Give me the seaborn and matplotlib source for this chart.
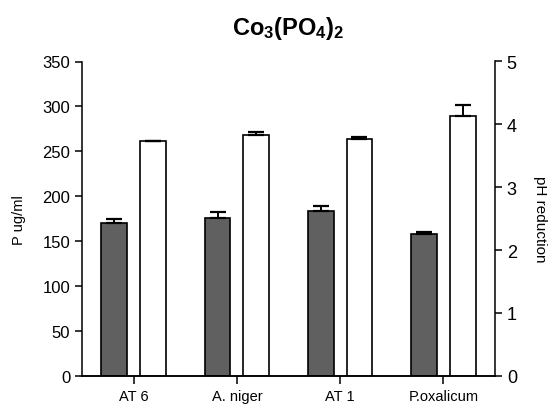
import matplotlib
matplotlib.use("Agg")
import matplotlib.pyplot as plt
import numpy as np
import pandas as pd
import seaborn as sns

# Phosphate solubilisation and pH drop per isolate
strains = ["AT 6", "A. niger", "AT 1", "P.oxalicum"]
p_values = [170, 176, 183, 157.5]
p_errors = [4, 6, 6.5, 2.5]
ph_values = [3.73, 3.83, 3.76, 4.14]
ph_errors = [0.01, 0.045, 0.04, 0.17]
p_ticks = [0, 50, 100, 150, 200, 250, 300, 350]
ph_ticks = [0, 1, 2, 3, 4, 5]

sns.set_style("ticks")
plt.rcParams["font.family"] = ["Liberation Sans", "DejaVu Sans"]
plt.rcParams["text.color"] = "black"
plt.rcParams["axes.labelcolor"] = "black"
plt.rcParams["mathtext.fontset"] = "custom"
plt.rcParams["mathtext.rm"] = "Liberation Sans"
plt.rcParams["mathtext.bf"] = "Liberation Sans:bold"

df_p = pd.DataFrame({"strain": strains, "measure": "P", "value": p_values})
df_ph = pd.DataFrame({"strain": strains, "measure": "pH", "value": ph_values})
palette = {"P": "#606060", "pH": "white"}
hue_order = ["P", "pH"]

fig = plt.figure(figsize=(5.48, 4.10), dpi=100)
ax = fig.add_axes([82 / 548, 1 - 376.7 / 410, (495 - 82) / 548, (376.7 - 62.5) / 410])
ax2 = ax.twinx()

common = dict(x="strain", y="value", hue="measure", hue_order=hue_order,
              order=strains, palette=palette, dodge=True, width=0.75, gap=0.33,
              errorbar=None, edgecolor="black", linewidth=1.2, legend=False)
sns.barplot(data=df_p, ax=ax, **common)
sns.barplot(data=df_ph, ax=ax2, **common)


def upper_errors(axis, values, errors):
    bars = [p for p in axis.patches if p.get_height() > 0]
    bars.sort(key=lambda p: p.get_x())
    xs = [p.get_x() + p.get_width() / 2 for p in bars]
    axis.errorbar(xs, values, yerr=[np.zeros(len(errors)), errors], fmt="none",
                  ecolor="black", elinewidth=1.4, capsize=6, capthick=1.6, zorder=1)


upper_errors(ax, p_values, p_errors)
upper_errors(ax2, ph_values, ph_errors)

ax.set_ylim(0, 350)
ax.set_yticks(p_ticks)
ax2.set_ylim(0, 5)
ax2.set_yticks(ph_ticks)
ax.set_xlim(-0.5, 3.5)

ax.set_xlabel("")
ax2.set_xlabel("")
ax.set_ylabel("P ug/ml", fontsize=10.5, labelpad=12)
ax2.set_ylabel("pH reduction", fontsize=11, rotation=270, labelpad=22)

for a in (ax, ax2):
    for side in ("left", "right", "bottom"):
        a.spines[side].set_linewidth(1.1)
        a.spines[side].set_color("black")
    a.spines["top"].set_visible(False)
    a.tick_params(axis="y", direction="out", length=5, width=1.1, labelsize=12, colors="black")
    a.tick_params(axis="x", direction="out", length=6, width=1.1, labelsize=10.5, colors="black")
ax2.tick_params(axis="y", labelsize=13)
ax.spines["right"].set_visible(False)
ax2.spines["left"].set_visible(False)

ax.set_title(r"$\mathbf{Co_3(PO_4)_2}$", fontsize=17, pad=20, color="black")

fig.savefig("out.png", dpi=100)
